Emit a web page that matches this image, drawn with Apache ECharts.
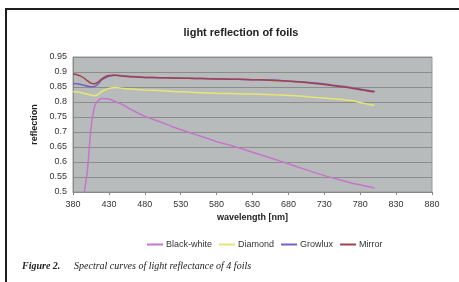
<!DOCTYPE html>
<html>
<head>
<meta charset="utf-8">
<script src="https://cdn.jsdelivr.net/npm/echarts@6/dist/echarts.min.js"></script>
<style>
  html, body { margin: 0; padding: 0; background: #fff; }
  #chart { width: 459px; height: 282px; }
</style>
</head>
<body>
<div id="chart"></div>
<script>
  // wavelength [nm]
  const wavelength = [380, 385, 390, 395, 400, 405, 410, 415, 420, 430, 440, 450, 460, 480, 500, 520, 540, 560, 580, 600, 620, 640, 660, 680, 700, 720, 740, 760, 770, 780, 790, 800]
  const blackWhite = [null, null, null, 0.49, 0.57, 0.71, 0.785, 0.805, 0.812, 0.81, 0.80, 0.79, 0.776, 0.752, 0.735, 0.716, 0.70, 0.684, 0.668, 0.655, 0.64, 0.625, 0.61, 0.594, 0.578, 0.562, 0.548, 0.535, 0.528, 0.524, 0.518, 0.513]
  const diamond = [0.835, 0.834, 0.832, 0.829, 0.826, 0.823, 0.821, 0.825, 0.835, 0.845, 0.848, 0.845, 0.843, 0.840, 0.838, 0.835, 0.833, 0.831, 0.829, 0.828, 0.827, 0.826, 0.824, 0.822, 0.819, 0.815, 0.811, 0.807, 0.804, 0.798, 0.793, 0.788]
  const growlux = [0.862, 0.861, 0.859, 0.856, 0.853, 0.851, 0.852, 0.860, 0.874, 0.886, 0.889, 0.887, 0.885, 0.882, 0.881, 0.880, 0.879, 0.878, 0.877, 0.876, 0.875, 0.874, 0.873, 0.870, 0.867, 0.863, 0.857, 0.851, 0.847, 0.843, 0.839, 0.836]
  const mirror = [0.893, 0.891, 0.887, 0.880, 0.871, 0.863, 0.861, 0.866, 0.877, 0.888, 0.889, 0.886, 0.884, 0.882, 0.881, 0.880, 0.879, 0.878, 0.877, 0.876, 0.875, 0.874, 0.872, 0.869, 0.866, 0.861, 0.855, 0.849, 0.845, 0.841, 0.837, 0.834]
  const seriesNames = ['Black-white', 'Diamond', 'Growlux', 'Mirror']
  const seriesColors = ['#c475cc', '#e6e672', '#7462c2', '#a3404c']

  const pairs = vals => wavelength.map((w, i) => [w, vals[i]])
  const allData = [blackWhite, diamond, growlux, mirror]

  const myChart = echarts.init(document.getElementById('chart'))
  myChart.setOption({
    animation: false,
    textStyle: { fontFamily: 'Liberation Sans' },
    title: {
      text: 'light reflection of foils',
      left: 236,
      textAlign: 'center',
      top: 22,
      textStyle: { fontSize: 11, fontWeight: 'bold', color: '#222' }
    },
    legend: {
      data: seriesNames,
      left: 142,
      top: 235,
      icon: 'rect',
      itemWidth: 16,
      itemHeight: 2,
      itemGap: 7,
      textStyle: { fontSize: 9, color: '#333', padding: [0, 0, 0, -2] }
    },
    grid: {
      left: 73,
      right: 27,
      top: 57,
      bottom: 90,
      show: true,
      backgroundColor: '#b8bbbb',
      borderColor: '#999',
      borderWidth: 1
    },
    xAxis: {
      type: 'value',
      min: 380,
      max: 880,
      interval: 50,
      name: 'wavelength [nm]',
      nameLocation: 'middle',
      nameGap: 21,
      nameTextStyle: { fontSize: 9, fontWeight: 'bold', color: '#222' },
      axisLine: { lineStyle: { color: '#888' } },
      axisTick: { show: true, length: 3, lineStyle: { color: '#888' } },
      axisLabel: { fontSize: 9, color: '#333', margin: 8 },
      splitLine: { show: false }
    },
    yAxis: {
      type: 'value',
      min: 0.5,
      max: 0.95,
      interval: 0.05,
      name: 'reflection',
      nameLocation: 'middle',
      nameGap: 30,
      nameTextStyle: { fontSize: 9, fontWeight: 'bold', color: '#222' },
      axisLine: { show: true, lineStyle: { color: '#888' } },
      axisTick: { show: false },
      axisLabel: { fontSize: 9, color: '#333', margin: 6 },
      splitLine: { lineStyle: { color: '#8c8c8c', width: 1 } }
    },
    series: seriesNames.map((name, i) => ({
      name: name,
      type: 'line',
      data: pairs(allData[i]),
      symbol: 'none',
      smooth: 0.3,
      color: seriesColors[i],
      lineStyle: { width: 1.5 }
    })),
    graphic: [
      {
        type: 'polyline',
        shape: { points: [[6, 282], [6, 9], [459, 9]] },
        style: { stroke: '#1e1e1e', lineWidth: 2, fill: null }
      },
      {
        type: 'text',
        left: 22,
        top: 261,
        style: { text: 'Figure 2.', font: 'italic bold 10px "Liberation Serif"', fill: '#222' }
      },
      {
        type: 'text',
        left: 74,
        top: 261,
        style: { text: 'Spectral curves of light reflectance of 4 foils', font: 'italic 10px "Liberation Serif"', fill: '#222' }
      }
    ]
  })
</script>
</body>
</html>
